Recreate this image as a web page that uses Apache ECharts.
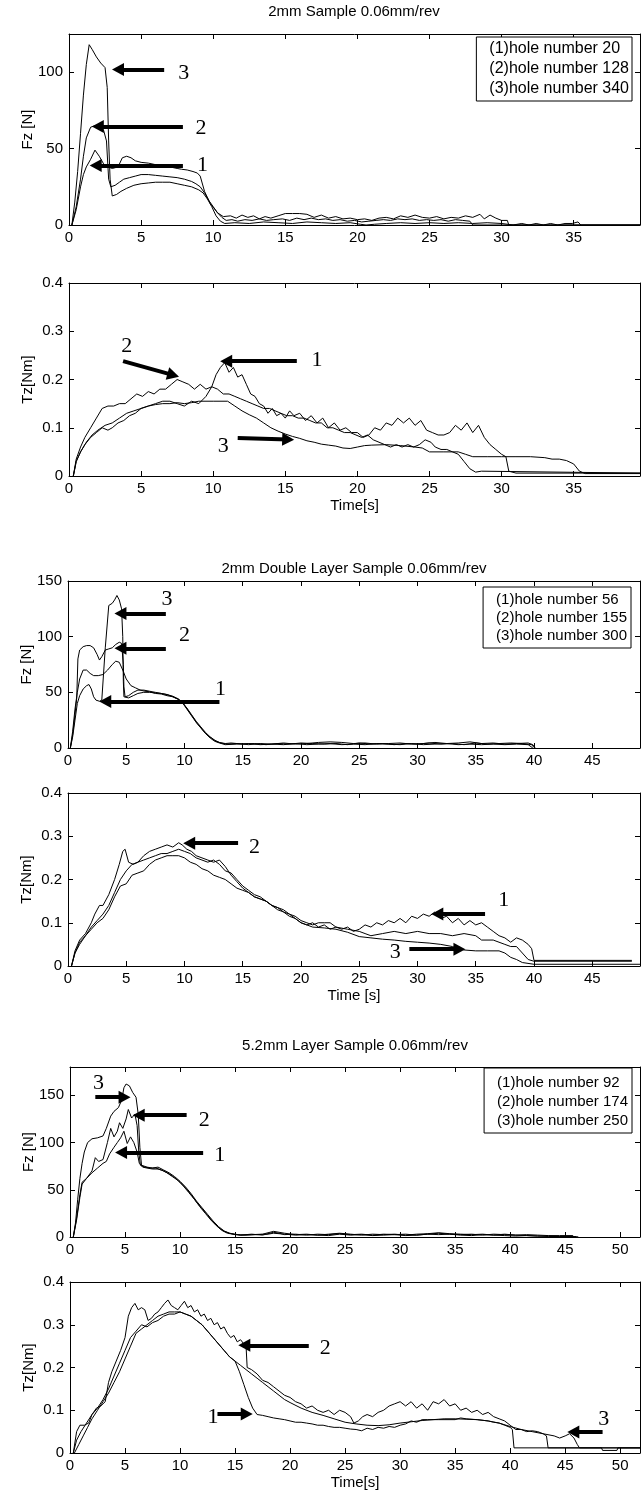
<!DOCTYPE html>
<html><head><meta charset="utf-8">
<script src="https://cdn.jsdelivr.net/npm/echarts@6.0.0/dist/echarts.min.js"></script>
<style>html,body{margin:0;padding:0;background:#fff}#c{width:642px;height:1496px}</style>
</head><body><div id="c"></div>
<script>
// ---------- titles, legends, axis names ----------
const titles = ['2mm Sample 0.06mm/rev', '2mm Double Layer Sample 0.06mm/rev', '5.2mm Layer Sample 0.06mm/rev'];
const legend1 = ['(1)hole number 20', '(2)hole number 128', '(3)hole number 340'];
const legend2 = ['(1)hole number 56', '(2)hole number 155', '(3)hole number 300'];
const legend3 = ['(1)hole number 92', '(2)hole number 174', '(3)hole number 250'];
const fzName = 'Fz [N]';
const tzName = 'Tz[Nm]';
const timeNames = ['Time[s]', 'Time [s]', 'Time[s]'];
const xTickStep = 5;
const fzTickStep = 50;
const tzTickStep = 0.1;

// ---------- Panel 1: Fz, 2mm sample ----------
const fz1_h20 = [[0.2,0],[0.5,10],[0.8,25],[1.0,33],[1.2,38],[1.5,43],[1.8,49],[2.1,45],[2.4,40],[2.7,38],[3.0,37],[3.4,38],[3.7,44],[4.0,45],[4.3,44],[4.6,42],[5.0,41],[5.5,40.5],[6.0,39.5],[6.5,39],[7.0,38],[7.5,37],[7.8,36.5],[8.2,36],[8.6,35],[8.9,34],[9.1,32],[9.4,22],[9.8,14],[10.3,8],[10.7,5.5],[11.2,6],[11.6,4.5],[12.0,6.5],[12.4,5],[12.8,6],[13.2,4],[13.6,5.5],[14.0,4.5],[14.5,6],[15.0,7.5],[15.5,7.5],[16.0,7.5],[16.5,7],[17.0,5],[17.5,6.5],[18.0,4.5],[18.5,5.5],[19.0,4],[19.5,4.5],[20.0,3.5],[20.5,4],[21.0,3],[21.5,4.5],[22.0,5],[22.5,4],[23.0,6],[23.5,5],[24.0,6.5],[24.5,5],[25.0,4.5],[25.5,5.5],[26.0,4],[26.5,5],[27.0,4.5],[27.5,6],[28.0,5],[28.5,7],[28.8,4],[29.2,6.5],[29.6,4.5],[30.0,3],[30.4,3],[30.5,0],[39.6,0]];
const fz1_h128 = [[0.2,0],[0.5,12],[0.8,30],[1.0,45],[1.2,57],[1.5,64],[1.8,65],[2.1,64],[2.4,62],[2.6,55],[2.75,30],[2.9,25],[3.2,26],[3.5,28],[3.8,30],[4.2,31],[4.6,32],[5.0,33],[5.5,33],[6.0,32.5],[6.5,32],[7.0,31.5],[7.5,31],[8.0,30],[8.5,28.5],[8.8,27],[9.1,25],[9.4,21],[9.7,16],[10.0,12],[10.3,8],[10.6,5],[10.9,3],[11.3,3.5],[11.7,2.5],[12.2,3.5],[12.7,3],[13.2,4],[13.7,3],[14.2,3.5],[14.8,4],[15.3,3],[15.8,4.5],[16.3,3.5],[16.8,4.5],[17.3,3.5],[17.8,4],[18.3,3],[18.8,3.5],[19.3,2.5],[19.8,3],[20.3,2],[20.8,2.5],[21.3,3],[21.8,3.5],[22.3,3],[22.8,4],[23.3,3.5],[23.8,4],[24.3,3],[24.8,3.5],[25.3,3],[25.8,3.5],[26.3,2.5],[26.8,3.5],[27.3,3],[27.8,2.5],[28.0,0],[39.6,0]];
const fz1_h340 = [[0.2,0],[0.4,15],[0.6,35],[0.8,60],[1.0,85],[1.2,105],[1.4,118],[1.6,115],[1.9,110],[2.2,106],[2.5,103],[2.65,90],[2.75,55],[2.85,30],[3.0,19],[3.3,20],[3.6,22],[4.0,24],[4.5,26],[5.0,27],[5.5,27.5],[6.0,28],[6.5,28],[7.0,28],[7.5,27],[8.0,26],[8.5,25],[9.0,23],[9.3,21],[9.6,17],[9.9,12],[10.2,6],[10.5,2.5],[10.8,1],[11.5,1.5],[12.5,1],[13.5,2],[14.5,1.5],[15.5,1],[16.5,2],[17.5,1.5],[18.5,1],[19.5,1.5],[20.2,0.5],[20.6,0],[21.2,0.5],[22,1],[23,1.5],[24,1],[25,1.5],[26,1],[27,1.5],[28,1],[29,1.5],[30,1],[30.8,0],[31.4,1],[31.9,0],[32.4,1],[32.9,0],[33.4,1],[33.9,0],[34.4,1],[34.9,1],[35.3,2],[35.5,0],[39.6,0]];

// ---------- Panel 2: Tz, 2mm sample ----------
const tz1_h20 = [[0.3,0],[0.5,0.03],[0.8,0.05],[1.1,0.065],[1.5,0.08],[1.9,0.09],[2.3,0.1],[2.7,0.095],[3.0,0.1],[3.4,0.11],[3.8,0.115],[4.2,0.125],[4.6,0.13],[5.0,0.14],[5.5,0.145],[6.0,0.15],[6.5,0.155],[7.0,0.155],[7.5,0.15],[8.0,0.145],[8.5,0.155],[9.0,0.15],[9.5,0.165],[9.9,0.185],[10.2,0.21],[10.5,0.225],[10.8,0.235],[11.1,0.215],[11.4,0.225],[11.7,0.205],[12.0,0.21],[12.3,0.19],[12.6,0.17],[12.9,0.165],[13.2,0.15],[13.5,0.145],[13.8,0.13],[14.1,0.14],[14.4,0.125],[14.7,0.13],[15.0,0.12],[15.3,0.135],[15.6,0.125],[16.0,0.13],[16.4,0.115],[16.8,0.125],[17.2,0.11],[17.6,0.12],[18.0,0.1],[18.4,0.11],[18.8,0.095],[19.2,0.1],[19.6,0.09],[20.0,0.09],[20.4,0.08],[20.8,0.085],[21.2,0.1],[21.6,0.095],[22.0,0.11],[22.4,0.105],[22.8,0.12],[23.2,0.11],[23.6,0.12],[24.0,0.105],[24.4,0.115],[24.8,0.095],[25.2,0.09],[25.6,0.085],[26.0,0.085],[26.4,0.09],[26.8,0.105],[27.2,0.095],[27.6,0.11],[28.0,0.09],[28.4,0.105],[28.8,0.08],[29.2,0.065],[29.6,0.055],[30.0,0.045],[30.3,0.04],[30.5,0.01],[31,0.006],[39.6,0.006]];
const tz1_h128 = [[0.3,0],[0.5,0.035],[0.8,0.06],[1.1,0.08],[1.5,0.1],[1.9,0.12],[2.3,0.14],[2.7,0.145],[3.1,0.145],[3.5,0.15],[3.9,0.15],[4.3,0.16],[4.7,0.17],[5.1,0.165],[5.5,0.175],[5.9,0.17],[6.3,0.18],[6.7,0.18],[7.1,0.19],[7.5,0.2],[7.9,0.195],[8.3,0.19],[8.7,0.18],[9.1,0.19],[9.5,0.18],[9.9,0.185],[10.3,0.18],[10.7,0.17],[11.1,0.17],[11.5,0.165],[11.9,0.16],[12.3,0.155],[12.7,0.15],[13.1,0.145],[13.5,0.14],[13.9,0.14],[14.3,0.135],[14.7,0.13],[15.1,0.125],[15.5,0.125],[15.9,0.12],[16.3,0.12],[16.7,0.115],[17.1,0.11],[17.5,0.11],[17.9,0.1],[18.3,0.1],[18.7,0.095],[19.1,0.09],[19.5,0.09],[19.9,0.085],[20.3,0.08],[20.7,0.085],[21.1,0.075],[21.5,0.07],[21.9,0.065],[22.3,0.06],[22.7,0.065],[23.1,0.06],[23.5,0.065],[23.9,0.06],[24.3,0.065],[24.7,0.075],[25.1,0.07],[25.4,0.06],[25.8,0.055],[26.2,0.055],[26.6,0.05],[27.0,0.045],[27.4,0.03],[27.8,0.015],[28.2,0.008],[28.6,0.01],[39.6,0.006]];
const tz1_h340 = [[0.3,0],[0.5,0.03],[0.8,0.05],[1.2,0.07],[1.6,0.085],[2.0,0.095],[2.5,0.105],[3.0,0.11],[3.5,0.12],[4.0,0.13],[4.5,0.135],[5.0,0.14],[5.5,0.145],[6.0,0.148],[6.5,0.15],[7.0,0.15],[7.5,0.152],[8.0,0.15],[8.5,0.152],[9.0,0.155],[10.0,0.155],[11.0,0.155],[11.5,0.145],[12.0,0.135],[12.5,0.127],[13.0,0.12],[13.5,0.11],[14.0,0.1],[14.5,0.093],[15.0,0.087],[15.5,0.082],[16.0,0.078],[16.5,0.073],[17.0,0.07],[17.5,0.066],[18.0,0.064],[18.5,0.062],[19.0,0.058],[19.5,0.057],[20.0,0.06],[20.5,0.063],[21.0,0.064],[22.0,0.065],[23.0,0.063],[24.0,0.06],[24.5,0.058],[25.0,0.05],[26.0,0.05],[27.0,0.05],[27.5,0.045],[28.0,0.04],[29.0,0.04],[30.0,0.04],[31.0,0.04],[32.0,0.04],[33.0,0.038],[33.5,0.035],[34.0,0.035],[34.5,0.032],[35.0,0.025],[35.4,0.01],[35.8,0.005],[39.6,0.005]];

// ---------- Panel 3: Fz, 2mm double layer ----------
const fz2_h56 = [[0.2,0],[0.4,15],[0.6,35],[0.8,50],[1.0,62],[1.3,70],[1.6,70],[1.9,67],[2.2,65],[2.6,65],[3.0,66],[3.4,70],[3.8,75],[4.1,78],[4.4,77],[4.7,70],[5.0,62],[5.4,56],[5.8,54],[6.2,52],[6.6,51],[7.0,50.5],[7.5,49],[8.0,48.5],[8.5,47],[9.0,46],[9.4,44],[9.8,41],[10.2,36],[10.6,30],[11.0,24],[11.4,19],[11.8,14],[12.2,10],[12.6,7],[13.0,5],[13.5,4],[14.0,4.5],[15,3.5],[16,4],[17,3],[18,4],[19,3.5],[20,4.5],[21,4],[22,3.5],[23,4],[24,3],[25,4.5],[26,3.5],[27,4],[28,3],[29,4],[30,3.5],[31,4.5],[32,3.5],[33,4],[34,3],[35,4.5],[36,3.5],[37,4],[38,4.5],[39,4],[39.8,3],[40,0.5]];
const fz2_h155 = [[0.2,0],[0.4,12],[0.6,30],[0.75,45],[0.85,80],[1.0,88],[1.3,91],[1.6,92],[1.9,92],[2.2,90],[2.5,84],[2.7,79],[2.9,82],[3.2,88],[3.5,89],[3.8,90],[4.1,93],[4.4,95],[4.6,94],[4.75,75],[4.8,55],[4.9,46],[5.2,47],[5.6,50],[6.0,52],[6.5,52],[7.0,51],[7.5,50],[8.0,49],[8.5,48],[9.0,46.5],[9.5,44],[9.9,40],[10.3,34],[10.7,28],[11.1,22],[11.5,17],[11.9,12],[12.3,9],[12.7,6],[13.1,4.5],[13.6,3.5],[14.5,4],[15.5,3],[16.5,4],[17.5,3.5],[18.5,4.5],[19.5,3.5],[20.5,4],[21.5,5],[22.5,5.5],[23.5,5],[24.5,4],[25.5,4.5],[26.5,3.5],[27.5,4],[28.5,4.5],[29.5,3.5],[30.5,4],[31.5,5],[32.5,4],[33.5,4.5],[34.5,5.5],[35.5,4],[36.5,4.5],[37.5,3.5],[38.5,4],[39.5,4.5],[39.9,3],[40.1,0]];
const fz2_h300 = [[0.2,0],[0.4,10],[0.6,25],[0.8,40],[1.0,47],[1.3,53],[1.6,56],[1.8,57],[2.0,53],[2.2,46],[2.4,43],[2.7,42],[2.9,43],[3.2,90],[3.5,128],[3.8,130],[4.0,133],[4.2,137],[4.4,133],[4.6,125],[4.7,100],[4.75,60],[4.8,46],[5.2,45],[5.6,47],[6.0,49],[6.5,50],[7.0,50],[7.5,49.5],[8.0,49],[8.5,48],[9.0,46],[9.4,44],[9.8,41],[10.2,35],[10.6,29],[11.0,23],[11.4,18],[11.8,13],[12.2,9],[12.6,6],[13.0,4.5],[13.5,3],[14.5,3.5],[15.5,4],[16.5,3],[17.5,3.5],[18.5,3],[19.5,4],[20.5,3],[21.5,3.5],[22.5,4],[23.5,3],[24.5,3.5],[25.5,3],[26.5,4],[27.5,3.5],[28.5,3],[29.5,4],[30.5,3],[31.5,3.5],[32.5,4],[33.5,3],[34.5,3.5],[35.5,3],[36.5,3.5],[37.5,3],[38.5,3.5],[39.5,3],[39.9,0]];

// ---------- Panel 4: Tz, 2mm double layer ----------
const tz2_h56 = [[0.3,0],[0.6,0.03],[1.0,0.055],[1.5,0.07],[2.0,0.09],[2.5,0.105],[3.0,0.12],[3.5,0.14],[4.0,0.17],[4.5,0.2],[5.0,0.22],[5.5,0.235],[6.0,0.24],[6.5,0.245],[7.0,0.25],[7.5,0.255],[8.0,0.26],[8.5,0.26],[9.0,0.265],[9.5,0.27],[10.0,0.265],[10.5,0.26],[11.0,0.25],[11.5,0.245],[12.0,0.24],[12.5,0.245],[13.0,0.235],[13.5,0.22],[14.0,0.215],[14.5,0.2],[15.0,0.185],[15.5,0.175],[16.0,0.165],[16.5,0.16],[17.0,0.15],[17.5,0.14],[18.0,0.135],[18.5,0.125],[19.0,0.12],[19.5,0.11],[20.0,0.1],[20.5,0.095],[21.0,0.1],[21.5,0.09],[22.0,0.095],[22.5,0.085],[23.0,0.09],[23.5,0.085],[24.0,0.09],[24.5,0.08],[25.0,0.085],[25.5,0.095],[26.0,0.09],[26.5,0.1],[27.0,0.095],[27.5,0.105],[28.0,0.1],[28.5,0.11],[29.0,0.1],[29.5,0.115],[30.0,0.11],[30.5,0.12],[31.0,0.115],[31.5,0.125],[32.0,0.11],[32.5,0.115],[33.0,0.1],[33.5,0.11],[34.0,0.095],[34.5,0.105],[35.0,0.095],[35.5,0.1],[36.0,0.09],[36.5,0.08],[37.0,0.07],[37.5,0.065],[38.0,0.055],[38.5,0.065],[39.0,0.06],[39.5,0.05],[39.8,0.04],[40.0,0.013],[48.4,0.013]];
const tz2_h155 = [[0.3,0],[0.6,0.035],[1.0,0.06],[1.5,0.075],[2.0,0.1],[2.3,0.12],[2.7,0.14],[3.0,0.14],[3.5,0.165],[4.0,0.2],[4.4,0.235],[4.7,0.265],[4.9,0.27],[5.2,0.24],[5.6,0.235],[6.0,0.24],[6.5,0.255],[7.0,0.265],[7.5,0.27],[8.0,0.275],[8.5,0.28],[9.0,0.275],[9.5,0.285],[9.8,0.28],[10.2,0.27],[10.6,0.265],[11.0,0.255],[11.5,0.25],[12.0,0.245],[12.5,0.24],[13.0,0.245],[13.5,0.23],[14.0,0.21],[14.5,0.195],[15.0,0.18],[15.5,0.17],[16.0,0.16],[16.5,0.155],[17.0,0.15],[17.5,0.14],[18.0,0.135],[18.5,0.13],[19.0,0.12],[19.5,0.115],[20.0,0.105],[20.5,0.1],[21.0,0.095],[21.5,0.1],[22.0,0.1],[22.5,0.1],[23.0,0.09],[24.0,0.085],[25.0,0.08],[25.5,0.075],[26.0,0.07],[27.0,0.075],[28.0,0.08],[29.0,0.075],[30.0,0.08],[31.0,0.075],[32.0,0.075],[33.0,0.07],[34.0,0.075],[35.0,0.07],[35.5,0.06],[36.5,0.06],[37.5,0.05],[38.0,0.045],[38.5,0.045],[39.0,0.03],[39.5,0.015],[40.0,0.011],[48.4,0.011]];
const tz2_h300 = [[0.3,0],[0.6,0.03],[1.0,0.05],[1.5,0.07],[2.0,0.085],[2.5,0.1],[3.0,0.11],[3.5,0.13],[4.0,0.16],[4.5,0.185],[5.0,0.19],[5.5,0.21],[6.0,0.215],[6.5,0.22],[7.0,0.235],[7.5,0.245],[8.0,0.25],[8.5,0.255],[9.0,0.255],[9.5,0.255],[10.0,0.25],[10.5,0.24],[11.0,0.235],[11.5,0.225],[12.0,0.22],[12.5,0.21],[13.0,0.205],[13.5,0.2],[14.0,0.19],[14.5,0.18],[15.0,0.175],[15.5,0.17],[16.0,0.16],[16.5,0.155],[17.0,0.15],[17.5,0.14],[18.0,0.13],[18.5,0.125],[19.0,0.115],[19.5,0.11],[20.0,0.1],[20.5,0.095],[21.0,0.09],[22.0,0.088],[23.0,0.085],[24.0,0.078],[25.0,0.068],[26.0,0.065],[27.0,0.062],[28.0,0.06],[29.0,0.057],[30.0,0.055],[31.0,0.053],[32.0,0.05],[33.0,0.045],[34.0,0.037],[35.0,0.035],[36.0,0.035],[37.0,0.035],[37.5,0.03],[38.0,0.02],[38.5,0.015],[39.0,0.008],[40.0,0.004],[49.1,0.004]];

// ---------- Panel 5: Fz, 5.2mm layer ----------
const fz3_h92 = [[0.3,0],[0.6,20],[0.9,45],[1.1,58],[1.5,62],[2.0,68],[2.5,73],[3.0,78],[3.3,80],[3.6,88],[4.0,95],[4.3,100],[4.6,105],[4.9,112],[5.2,99],[5.5,106],[5.8,100],[6.1,90],[6.3,78],[6.6,74],[7.0,73],[7.5,72],[8.0,72],[8.5,70],[9.0,67],[9.5,63],[10.0,58],[10.5,52],[11.0,45],[11.5,37],[12.0,30],[12.5,23],[13.0,16],[13.5,10],[14.0,6],[14.5,4],[15.0,3],[15.5,2],[16.5,3],[17.5,2],[18.5,5],[19.0,4],[19.5,2.5],[20.5,3],[21.5,2],[22.5,3],[23.5,2.5],[24.5,3.5],[25.5,2.5],[26.5,3],[27.5,2],[28.5,3],[29.5,2.5],[30.5,3],[31.5,2],[32.5,3],[33.5,4],[34.5,3],[35.5,2.5],[36.5,3],[37.5,2],[38.5,3],[39.5,2.5],[40.5,2],[41.5,2.5],[42.5,2],[43.5,1.5],[44.5,1.5],[45.7,1.5],[45.8,0]];
const fz3_h174 = [[0.3,0],[0.6,18],[0.9,42],[1.1,56],[1.5,62],[2.0,70],[2.3,84],[2.6,80],[3.0,82],[3.4,100],[3.7,115],[4.0,106],[4.3,112],[4.5,121],[4.8,115],[5.1,125],[5.3,135],[5.6,126],[5.9,130],[6.1,118],[6.25,90],[6.4,76],[6.8,74],[7.3,73],[7.8,73],[8.3,71],[8.8,68],[9.3,64],[9.8,60],[10.3,54],[10.8,47],[11.3,40],[11.8,32],[12.3,25],[12.8,18],[13.3,12],[13.8,7],[14.3,4],[14.8,3],[15.5,2],[16.5,2.5],[17.5,3],[18.5,6],[19.5,4],[20.5,2.5],[21.5,3],[22.5,2],[23.5,3],[24.5,4],[25.5,3],[26.5,2],[27.5,3],[28.5,2.5],[29.5,3],[30.5,2],[31.5,3],[32.5,3.5],[33.5,4.5],[34.5,3.5],[35.5,3],[36.5,2.5],[37.5,3],[38.5,2],[39.5,3],[40.5,2],[41.5,1.5],[42.5,1],[43.5,1],[44.5,0.5],[45.5,0]];
const fz3_h250 = [[0.3,0],[0.5,15],[0.7,40],[0.9,62],[1.1,78],[1.3,90],[1.6,100],[2.0,104],[2.5,105],[3.0,107],[3.3,115],[3.7,128],[4.0,133],[4.4,137],[4.7,145],[4.9,158],[5.1,162],[5.4,160],[5.7,153],[6.0,148],[6.2,130],[6.35,95],[6.5,76],[7.0,74],[7.5,73],[8.0,74],[8.5,71],[9.0,68],[9.5,64],[10.0,59],[10.5,53],[11.0,46],[11.5,38],[12.0,31],[12.5,24],[13.0,17],[13.5,11],[14.0,6.5],[14.5,4],[15.0,2.5],[16.0,2],[17.0,2.5],[18.0,3],[18.5,4],[19.5,3],[20.5,2],[21.5,2.5],[22.5,2],[23.5,1.5],[24.5,3],[25.5,2],[26.5,2.5],[27.5,1.5],[28.5,2],[29.5,2.5],[30.5,1.5],[31.5,2],[32.5,3],[33.5,2.5],[34.5,3],[35.5,2],[36.5,1.5],[37.5,2.5],[38.5,2],[39.5,1.5],[40.5,1],[41.5,1.5],[42.5,1],[43.5,0.5],[44.5,0.5],[46.0,0.5],[46.2,0]];

// ---------- Panel 6: Tz, 5.2mm layer ----------
const tz3_h92 = [[0.3,0],[0.6,0.03],[1.0,0.05],[1.5,0.07],[2.0,0.09],[2.5,0.105],[3.0,0.125],[3.5,0.15],[4.0,0.18],[4.5,0.21],[5.0,0.24],[5.5,0.27],[6.0,0.285],[6.5,0.3],[7.0,0.295],[7.5,0.305],[8.0,0.31],[8.5,0.32],[9.0,0.325],[9.5,0.325],[10.0,0.33],[10.5,0.325],[11.0,0.32],[11.5,0.31],[12.0,0.3],[12.5,0.285],[13.0,0.27],[13.5,0.255],[14.0,0.24],[14.5,0.225],[15.0,0.215],[15.4,0.19],[15.8,0.16],[16.2,0.13],[16.6,0.105],[17.0,0.09],[17.5,0.088],[18.0,0.085],[18.5,0.082],[19.0,0.08],[19.5,0.078],[20.0,0.075],[20.5,0.072],[21.0,0.072],[21.5,0.07],[22.0,0.068],[22.5,0.065],[23.0,0.065],[23.5,0.062],[24.0,0.06],[24.5,0.06],[25.0,0.058],[25.5,0.056],[26.0,0.055],[26.5,0.052],[27.0,0.058],[27.5,0.055],[28.0,0.06],[28.5,0.058],[29.0,0.062],[29.5,0.06],[30.0,0.065],[30.5,0.068],[31.0,0.075],[31.5,0.072],[32.0,0.078],[32.5,0.078],[33.5,0.078],[35.0,0.078],[35.5,0.082],[36.0,0.08],[37.0,0.078],[38.0,0.075],[38.5,0.072],[39.0,0.07],[39.5,0.065],[40.0,0.06],[40.2,0.055],[40.35,0.012],[51.8,0.012]];
const tz3_h174 = [[0.3,0],[0.6,0.05],[0.9,0.065],[1.3,0.065],[1.7,0.07],[2.0,0.09],[2.4,0.105],[2.8,0.11],[3.2,0.12],[3.5,0.165],[3.8,0.19],[4.2,0.215],[4.6,0.24],[5.0,0.27],[5.3,0.32],[5.6,0.34],[5.9,0.35],[6.2,0.335],[6.5,0.34],[6.8,0.335],[7.1,0.31],[7.4,0.315],[7.7,0.325],[8.0,0.33],[8.3,0.34],[8.6,0.35],[8.9,0.358],[9.2,0.345],[9.5,0.34],[9.8,0.335],[10.1,0.345],[10.4,0.355],[10.7,0.34],[11.0,0.345],[11.3,0.33],[11.6,0.335],[11.9,0.32],[12.2,0.325],[12.5,0.31],[12.8,0.315],[13.1,0.3],[13.4,0.305],[13.7,0.29],[14.0,0.295],[14.3,0.28],[14.6,0.27],[14.9,0.275],[15.2,0.26],[15.5,0.265],[15.8,0.255],[16.0,0.25],[16.1,0.2],[16.5,0.195],[17.0,0.185],[17.5,0.17],[18.0,0.165],[18.5,0.155],[19.0,0.145],[19.5,0.135],[20.0,0.13],[20.5,0.12],[21.0,0.115],[21.5,0.105],[22.0,0.11],[22.5,0.1],[23.0,0.095],[23.5,0.1],[24.0,0.09],[24.5,0.1],[25.0,0.095],[25.5,0.085],[25.8,0.07],[26.2,0.075],[26.6,0.085],[27.0,0.09],[27.5,0.085],[28.0,0.095],[28.5,0.1],[29.0,0.11],[29.5,0.115],[30.0,0.12],[30.5,0.11],[31.0,0.12],[31.5,0.105],[32.0,0.115],[32.5,0.1],[33.0,0.12],[33.5,0.115],[34.0,0.125],[34.5,0.11],[35.0,0.115],[35.5,0.1],[36.0,0.105],[36.5,0.095],[37.0,0.1],[37.5,0.09],[38.0,0.095],[38.5,0.085],[39.0,0.08],[39.5,0.075],[40.0,0.065],[40.5,0.055],[41.0,0.055],[41.5,0.05],[42.0,0.052],[42.5,0.05],[43.0,0.045],[43.3,0.04],[43.45,0.012],[51.8,0.012]];
const tz3_h250 = [[0.4,0],[0.8,0.02],[1.2,0.04],[1.6,0.06],[2.0,0.08],[2.5,0.1],[3.0,0.12],[3.5,0.14],[4.0,0.165],[4.5,0.19],[5.0,0.22],[5.5,0.25],[6.0,0.28],[6.5,0.29],[7.0,0.3],[7.5,0.31],[8.0,0.32],[8.5,0.325],[9.0,0.33],[9.5,0.33],[10.0,0.33],[10.5,0.325],[11.0,0.32],[11.5,0.31],[12.0,0.3],[12.5,0.285],[13.0,0.27],[13.5,0.255],[14.0,0.24],[14.5,0.225],[15.0,0.215],[15.5,0.205],[16.0,0.195],[16.5,0.185],[17.0,0.175],[17.5,0.165],[18.0,0.155],[18.5,0.145],[19.0,0.135],[19.5,0.125],[20.0,0.118],[21.0,0.105],[22.0,0.095],[23.0,0.088],[24.0,0.08],[25.0,0.072],[26.0,0.068],[27.0,0.065],[28.0,0.064],[29.0,0.066],[30.0,0.07],[31.0,0.073],[32.0,0.076],[33.0,0.078],[34.0,0.08],[35.0,0.08],[36.0,0.079],[37.0,0.078],[38.0,0.075],[39.0,0.07],[40.0,0.062],[41.0,0.055],[42.0,0.05],[43.0,0.045],[44.0,0.04],[44.5,0.035],[45.0,0.04],[45.4,0.045],[45.8,0.035],[46.1,0.02],[46.3,0.012],[48.3,0.012],[48.4,0.006],[49.7,0.006],[49.8,0.012],[51.8,0.012]];

// ---------- annotations: arrows [x1,y1,x2,y2] (tail -> head) and numerals [x,y,text] in data units ----------
const arrows1 = [[6.6,101.7,3.4,101.7],[7.9,64.5,2.0,64.5],[7.9,39,1.85,39]];
const nums1 = [[7.95,99.3,'3'],[9.15,63.5,'2'],[9.25,39,'1']];
const arrows2 = [[15.8,0.238,10.9,0.238],[3.75,0.238,7.23,0.209],[11.7,0.079,15.2,0.0755]];
const nums2 = [[17.2,0.239,'1'],[4.0,0.268,'2'],[10.7,0.061,'3']];
const arrows3 = [[8.4,120.8,4.5,120.8],[8.4,89.5,4.5,89.5],[13.0,41.8,3.2,41.8]];
const nums3 = [[8.5,134,'3'],[10.0,101,'2'],[13.1,53,'1']];
const arrows4 = [[14.6,0.284,10.4,0.284],[35.8,0.12,31.7,0.12],[29.3,0.039,33.6,0.039]];
const nums4 = [[16.0,0.275,'2'],[37.4,0.153,'1'],[28.1,0.032,'3']];
const arrows5 = [[2.3,148,4.96,148],[10.6,129,6.24,129],[12.1,89.6,4.64,89.6]];
const nums5 = [[2.6,163,'3'],[12.2,124,'2'],[13.6,87,'1']];
const arrows6 = [[21.7,0.252,15.84,0.252],[13.4,0.091,16.06,0.091],[48.4,0.049,45.74,0.049]];
const nums6 = [[23.2,0.245,'2'],[13.0,0.084,'1'],[48.5,0.08,'3']];

// ---------- layout ----------
const FONT = "'Liberation Sans', Arial, Helvetica, sans-serif";
const SERIF = "'Liberation Serif', 'Times New Roman', serif";
const panels = [
  {box:[69,34,571,191], xMax:39.6, yMax:125, yStep:fzTickStep, yMaxLabel:false, yName:fzName, xName:'', series:[fz1_h20,fz1_h128,fz1_h340], names:legend1, arrows:arrows1, nums:nums1},
  {box:[69,283,571,193], xMax:39.6, yMax:0.4, yStep:tzTickStep, yMaxLabel:true, yName:tzName, xName:timeNames[0], series:[tz1_h20,tz1_h128,tz1_h340], names:legend1, arrows:arrows2, nums:nums2},
  {box:[68,581,572,167], xMax:49.1, yMax:150, yStep:fzTickStep, yMaxLabel:true, yName:fzName, xName:'', series:[fz2_h56,fz2_h155,fz2_h300], names:legend2, arrows:arrows3, nums:nums3},
  {box:[68,793,572,173], xMax:49.1, yMax:0.4, yStep:tzTickStep, yMaxLabel:true, yName:tzName, xName:timeNames[1], series:[tz2_h56,tz2_h155,tz2_h300], names:legend2, arrows:arrows4, nums:nums4},
  {box:[70,1067,570,170], xMax:51.8, yMax:180, yStep:fzTickStep, yMaxLabel:false, yName:fzName, xName:'', series:[fz3_h92,fz3_h174,fz3_h250], names:legend3, arrows:arrows5, nums:nums5},
  {box:[70,1282,570,171], xMax:51.8, yMax:0.4, yStep:tzTickStep, yMaxLabel:true, yName:tzName, xName:timeNames[2], series:[tz3_h92,tz3_h174,tz3_h250], names:legend3, arrows:arrows6, nums:nums6}
];
const titlePos = [[354,4],[354,561],[355,1038]];
const legendPos = [
  {top:37, right:10, fontSize:16, itemGap:4, padding:[4,3,4,8]},
  {top:587, right:11, fontSize:15, itemGap:3, padding:[5,4,5,8]},
  {top:1068, right:10, fontSize:15, itemGap:4, padding:[7,4,5,8]}
];

const grids=[], xAxes=[], yAxes=[], series=[];
const axisBase = {
  type:'value', min:0, splitLine:{show:false},
  axisLine:{show:true, onZero:false, lineStyle:{color:'#000', width:1}},
  axisTick:{show:true, inside:true, length:5, lineStyle:{color:'#000', width:1}},
};
panels.forEach((p,i)=>{
  grids.push({left:p.box[0], top:p.box[1], width:p.box[2], height:p.box[3], show:false, containLabel:false});
  const lab = {show:true, color:'#000', fontSize:15, fontFamily:FONT};
  xAxes.push(Object.assign({}, axisBase, {gridIndex:i, position:'bottom', max:p.xMax, interval:xTickStep,
    axisLabel:Object.assign({}, lab, {margin:5, showMaxLabel:false, showMinLabel:true}),
    name:p.xName, nameLocation:'middle', nameGap:22, nameMoveOverlap:false, nameTextStyle:{color:'#000', fontSize:15, fontFamily:FONT}}));
  xAxes.push(Object.assign({}, axisBase, {gridIndex:i, position:'top', max:p.xMax, interval:xTickStep, axisLabel:{show:false}}));
  yAxes.push(Object.assign({}, axisBase, {gridIndex:i, position:'left', max:p.yMax, interval:p.yStep,
    axisLabel:Object.assign({}, lab, {margin:6, showMaxLabel:p.yMaxLabel, showMinLabel:true}),
    name:p.yName, nameLocation:'middle', nameGap:34, nameMoveOverlap:false, nameTextStyle:{color:'#000', fontSize:15, fontFamily:FONT}}));
  yAxes.push(Object.assign({}, axisBase, {gridIndex:i, position:'right', max:p.yMax, interval:p.yStep, axisLabel:{show:false}}));
  p.series.forEach((d,k)=>{
    const s = {type:'line', name:p.names[k], xAxisIndex:2*i, yAxisIndex:2*i, data:d,
      showSymbol:false, symbol:'none', silent:true, animation:false, z:2,
      lineStyle:{color:'#000', width:1}, itemStyle:{color:'#000'}, emphasis:{disabled:true}};
    if (k===0) {
      s.markLine = {silent:true, animation:false, symbol:['none','triangle'], symbolSize:[13,12], precision:4,
        lineStyle:{color:'#000', width:4, type:'solid'}, label:{show:false}, emphasis:{disabled:true},
        data:p.arrows.map(a=>[{coord:[a[0],a[1]]},{coord:[a[2],a[3]]}])};
      s.markPoint = {silent:true, animation:false, symbol:'circle', symbolSize:1, itemStyle:{color:'rgba(0,0,0,0)'},
        label:{show:true, position:'inside', color:'#000', fontSize:22, fontFamily:SERIF, formatter:q=>q.name},
        data:p.nums.map(n=>({coord:[n[0],n[1]], name:n[2], value:n[2]}))};
    }
    series.push(s);
  });
});

const option = {
  animation:false,
  backgroundColor:'#fff',
  title: titles.map((t,i)=>({text:t, left:titlePos[i][0], top:titlePos[i][1], textAlign:'center', textVerticalAlign:'top', padding:0,
    textStyle:{fontSize:15, fontWeight:'normal', color:'#000', fontFamily:FONT}})),
  legend: [legend1, legend2, legend3].map((names,i)=>({data:names, orient:'vertical', top:legendPos[i].top, right:legendPos[i].right,
    itemWidth:0, itemHeight:0, itemGap:legendPos[i].itemGap, padding:legendPos[i].padding, icon:'rect',
    backgroundColor:'#fff', borderColor:'#000', borderWidth:1, borderRadius:0, selectedMode:false,
    textStyle:{fontSize:legendPos[i].fontSize, color:'#000', fontFamily:FONT}})),
  grid: grids, xAxis: xAxes, yAxis: yAxes, series: series
};
const chart = echarts.init(document.getElementById('c'), null, {renderer:'canvas', width:642, height:1496});
chart.setOption(option);
</script></body></html>
